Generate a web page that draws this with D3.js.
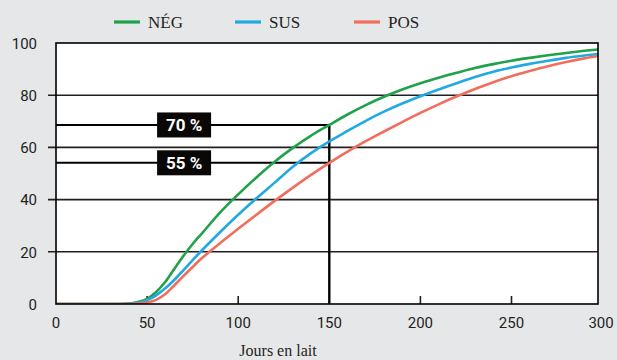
<!DOCTYPE html>
<html><head><meta charset="utf-8">
<script src="https://cdn.jsdelivr.net/npm/d3@7"></script>
<style>
html,body{margin:0;padding:0;background:#e6e7e9;}
svg{display:block;}
</style></head>
<body>
<svg id="chart" width="617" height="360"></svg>
<script>
// ---- data ----
const days = [0,10,20,30,40,45,50,55,60,65,70,75,80,90,100,110,120,130,140,150,160,170,180,190,200,210,220,230,240,250,260,270,280,290,300];
const neg  = [0,0,0,0,0.2,0.8,2,4.6,8.5,13.5,18.5,23,27,35,42,48.5,54.5,59.8,64.5,68.6,72.6,76.2,79.4,82.2,84.6,86.7,88.6,90.4,91.9,93.2,94.3,95.3,96.2,97,97.7];
const sus  = [0,0,0,0,0.1,0.5,1.5,3.3,6,9.3,13,16.8,20.5,27.5,34.2,40.5,46.5,52.6,57.8,62.3,66.3,70.2,73.7,76.8,79.6,82.2,84.6,87,89,90.6,92,93.2,94.3,95.2,96];
const pos  = [0,0,0,0,0,0.2,0.6,1.6,3.8,7.2,10.8,14.2,17.5,23.3,28.8,34.2,39.5,44.6,49.5,54.1,58.4,62.4,66.1,69.7,73.2,76.5,79.6,82.4,85,87.3,89.3,91.1,92.7,94.1,95.3];
const seriesNames = ["NÉG","SUS","POS"];
const seriesColors = ["#1fa24a","#22a9e1","#f16e5d"];
const yTicks = [0,20,40,60,80,100];
const xTicks = [0,50,100,150,200,250,300];
const refDay = 150;
const refValues = [68.6, 54.1];
const refLabels = ["70 %","55 %"];
const xTitle = "Jours en lait";

const series = seriesNames.map((n,i)=>({name:n,color:seriesColors[i],values:[neg,sus,pos][i]}));

// ---- layout ----
const svg = d3.select("#chart");
const L = 56, R = 598, T = 43, B = 304;
const x = d3.scaleLinear().domain([0,300]).range([56,602.6]);
const y = d3.scaleLinear().domain([0,100]).range([B,T]);
const ink = "#231f20";

svg.append("defs").append("clipPath").attr("id","plotclip")
  .append("rect").attr("x",L).attr("y",T-5).attr("width",R-L).attr("height",B-T+5);

// plot background
svg.append("rect").attr("x",L).attr("y",T).attr("width",R-L).attr("height",B-T).attr("fill","#fff");

// gridlines + left ticks
const inner = yTicks.filter(v=>v>0 && v<100);
svg.append("g").selectAll("line").data(inner).join("line")
  .attr("x1",48).attr("x2",R).attr("y1",d=>y(d)).attr("y2",d=>y(d))
  .attr("stroke",ink).attr("stroke-width",1.6);

// y labels
svg.append("g").selectAll("text").data(yTicks).join("text")
  .attr("x",37).attr("y",d=>y(d)).attr("dy","0.38em").attr("text-anchor","end")
  .attr("font-family","Roboto, 'Noto Sans', sans-serif").attr("font-size",15).attr("fill",ink)
  .text(d=>d);

// x inner ticks
svg.append("g").selectAll("line").data(xTicks.filter(v=>v>0 && v<300 && v!==refDay)).join("line")
  .attr("x1",d=>x(d)).attr("x2",d=>x(d)).attr("y1",B).attr("y2",B-8)
  .attr("stroke",ink).attr("stroke-width",1.6);

// x labels
svg.append("g").selectAll("text").data(xTicks).join("text")
  .attr("x",d=>x(d)-(d===300?1.5:0)).attr("y",328).attr("text-anchor","middle")
  .attr("font-family","Roboto, 'Noto Sans', sans-serif").attr("font-size",15).attr("fill",ink)
  .text(d=>d);

// x title
svg.append("text").attr("x",278).attr("y",356).attr("text-anchor","middle")
  .attr("font-family","'Liberation Serif', serif").attr("font-size",16).attr("fill",ink)
  .text(xTitle);

// reference lines
const refG = svg.append("g");
refG.selectAll("line.h").data(refValues).join("line").attr("class","h")
  .attr("x1",L).attr("x2",x(refDay)).attr("y1",d=>y(d)).attr("y2",d=>y(d))
  .attr("stroke","#000").attr("stroke-width",2);
refG.append("line").attr("x1",x(refDay)).attr("x2",x(refDay))
  .attr("y1",y(d3.max(refValues))-1).attr("y2",B)
  .attr("stroke","#000").attr("stroke-width",2.4);

// curves
const line = d3.line().x((d,i)=>x(days[i])).y(d=>y(d)).curve(d3.curveMonotoneX);
svg.append("g").attr("clip-path","url(#plotclip)").selectAll("path").data(series).join("path")
  .attr("d",d=>line(d.values)).attr("fill","none").attr("stroke",d=>d.color)
  .attr("stroke-width",2.6).attr("stroke-linejoin","round");

// labels on ref lines
const boxG = svg.append("g").selectAll("g").data(refValues).join("g")
  .attr("transform",d=>`translate(${x(70.3)},${y(d)})`);
boxG.append("rect").attr("x",-27).attr("y",-12.5).attr("width",54).attr("height",25).attr("fill","#0a0707");
boxG.append("text").attr("x",0).attr("y",0).attr("dy","0.36em").attr("text-anchor","middle")
  .attr("font-family","Roboto, sans-serif").attr("font-weight","bold").attr("font-size",17)
  .attr("fill","#fff").text((d,i)=>refLabels[i]);

// frame
svg.append("rect").attr("x",L).attr("y",T).attr("width",R-L).attr("height",B-T)
  .attr("fill","none").attr("stroke","#000").attr("stroke-width",1.6);

// legend
const legX = [114,235,354];
const leg = svg.append("g").selectAll("g").data(series).join("g")
  .attr("transform",(d,i)=>`translate(${legX[i]},22)`);
leg.append("line").attr("x1",0).attr("x2",26).attr("y1",0).attr("y2",0)
  .attr("stroke",d=>d.color).attr("stroke-width",3.2);
leg.append("text").attr("x",34).attr("y",6).attr("font-family","'Liberation Serif', serif")
  .attr("font-size",17).attr("fill",ink).text(d=>d.name);
</script>
</body></html>
